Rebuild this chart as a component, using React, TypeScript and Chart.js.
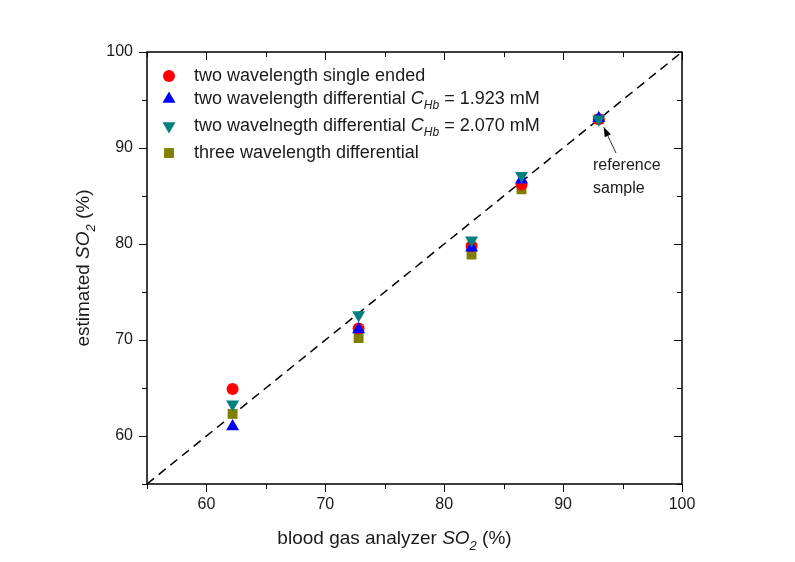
import React, { useEffect, useRef } from "react";
import { Chart, registerables } from "chart.js";

Chart.register(...registerables);

const analyzerSO2 = [62.2, 72.8, 82.3, 86.5, 93.0];
const singleEnded = [64.9, 71.2, 79.8, 86.2, 93.0];
const diff1923 = [61.0, 71.1, 79.6, 86.7, 93.1];
const diff2070 = [63.3, 72.6, 80.4, 87.1, 93.0];
const threeWave = [62.3, 70.2, 78.9, 85.7, 93.0];
const identityLine = [55, 100];
const xTicks = [60, 70, 80, 90, 100];
const yTicks = [60, 70, 80, 90, 100];

const FONT = "Arial, 'Liberation Sans', sans-serif";

const pts = (ys: number[]) => analyzerSO2.map((x, i) => ({ x, y: ys[i] }));

type Seg = { t: string; italic?: boolean; sub?: boolean };

function drawRich(ctx: CanvasRenderingContext2D, segs: Seg[], x: number, y: number, size: number, align: "left" | "center") {
  const fontFor = (s: Seg) => `${s.italic ? "italic " : ""}${s.sub ? Math.round(size * 0.68) : size}px ${FONT}`;
  let total = 0;
  for (const s of segs) { ctx.font = fontFor(s); total += ctx.measureText(s.t).width; }
  let cx = align === "center" ? x - total / 2 : x;
  ctx.textBaseline = "middle";
  ctx.textAlign = "left";
  for (const s of segs) {
    ctx.font = fontFor(s);
    ctx.fillText(s.t, cx, s.sub ? y + size * 0.38 : y);
    cx += ctx.measureText(s.t).width;
  }
}

function marker(ctx: CanvasRenderingContext2D, style: string, x: number, y: number, r: number, rot: number) {
  ctx.beginPath();
  if (style === "circle") {
    ctx.arc(x, y, r, 0, Math.PI * 2);
  } else if (style === "rect") {
    const s = r / Math.SQRT2;
    ctx.rect(x - s, y - s, 2 * s, 2 * s);
  } else {
    const d = rot === 180 ? -1 : 1;
    ctx.moveTo(x, y - d * r);
    ctx.lineTo(x + r * Math.sin(Math.PI / 3), y + d * r / 2);
    ctx.lineTo(x - r * Math.sin(Math.PI / 3), y + d * r / 2);
    ctx.closePath();
  }
  ctx.fill();
}

const legendItems: { segs: Seg[]; style: string; color: string; rot: number; r: number }[] = [
  { segs: [{ t: "two wavelength single ended" }], style: "circle", color: "#ff0000", rot: 0, r: 6 },
  { segs: [{ t: "two wavelength differential " }, { t: "C", italic: true }, { t: "Hb", italic: true, sub: true }, { t: " = 1.923 mM" }], style: "triangle", color: "#0000ff", rot: 0, r: 7.5 },
  { segs: [{ t: "two wavelnegth differential " }, { t: "C", italic: true }, { t: "Hb", italic: true, sub: true }, { t: " = 2.070 mM" }], style: "triangle", color: "#008080", rot: 180, r: 7.5 },
  { segs: [{ t: "three wavelength differential" }], style: "rect", color: "#808000", rot: 0, r: 7 },
];
const legendRowsY = [76, 99, 126, 153];

const overlay = {
  id: "overlay",
  afterDraw(chart: any) {
    const { ctx, chartArea: a, scales } = chart;
    const xs = scales.x, ys = scales.y;
    ctx.save();
    ctx.strokeStyle = "#000";
    ctx.lineWidth = 1.5;
    ctx.strokeRect(a.left, a.top, a.right - a.left, a.bottom - a.top);
    ctx.lineWidth = 1;
    for (let v = 55; v <= 100; v += 5) {
      const major = v % 10 === 0;
      const len = major ? 8 : 5;
      const px = Math.round(xs.getPixelForValue(v)) + 0.5;
      const py = Math.round(ys.getPixelForValue(v)) + 0.5;
      ctx.beginPath();
      ctx.moveTo(px, a.bottom); ctx.lineTo(px, a.bottom + len);
      ctx.moveTo(px, a.top); ctx.lineTo(px, a.top + len);
      ctx.moveTo(a.left, py); ctx.lineTo(a.left - len, py);
      ctx.moveTo(a.right, py); ctx.lineTo(a.right - len, py);
      ctx.stroke();
    }
    // legend
    legendItems.forEach((it, i) => {
      const y = legendRowsY[i];
      ctx.fillStyle = it.color;
      marker(ctx, it.style, 169, y, it.r, it.rot);
      ctx.fillStyle = "#1a1a1a";
      drawRich(ctx, it.segs, 194, y, 18, "left");
    });
    // axis titles
    ctx.fillStyle = "#1a1a1a";
    drawRich(ctx, [{ t: "blood gas analyzer " }, { t: "SO", italic: true }, { t: "2", italic: true, sub: true }, { t: " (%)" }], (a.left + a.right) / 2 - 20, 539, 19, "center");
    ctx.save();
    ctx.translate(84, (a.top + a.bottom) / 2);
    ctx.rotate(-Math.PI / 2);
    drawRich(ctx, [{ t: "estimated " }, { t: "SO", italic: true }, { t: "2", italic: true, sub: true }, { t: " (%)" }], 0, 0, 19, "center");
    ctx.restore();
    // annotation
    ctx.fillStyle = "#1a1a1a";
    ctx.font = `16px ${FONT}`;
    ctx.textAlign = "left";
    ctx.textBaseline = "middle";
    ctx.fillText("reference", 593, 166);
    ctx.fillText("sample", 593, 189);
    const tx = xs.getPixelForValue(93.0) + 5, tyy = ys.getPixelForValue(93.0) + 8;
    const sx = 616, sy = 153;
    ctx.strokeStyle = "#333";
    ctx.lineWidth = 1;
    ctx.beginPath(); ctx.moveTo(sx, sy); ctx.lineTo(tx, tyy); ctx.stroke();
    const ang = Math.atan2(tyy - sy, tx - sx);
    ctx.fillStyle = "#000";
    ctx.beginPath();
    ctx.moveTo(tx, tyy);
    ctx.lineTo(tx - 10 * Math.cos(ang - 0.35), tyy - 10 * Math.sin(ang - 0.35));
    ctx.lineTo(tx - 10 * Math.cos(ang + 0.35), tyy - 10 * Math.sin(ang + 0.35));
    ctx.closePath(); ctx.fill();
    ctx.restore();
  },
};

export default function App() {
  const ref = useRef<HTMLCanvasElement>(null);
  useEffect(() => {
    if (!ref.current) return;
    const chart = new Chart(ref.current, {
      type: "scatter",
      data: {
        datasets: [
          { label: "identity", data: identityLine.map((v) => ({ x: v, y: v })), showLine: true, borderColor: "#000", borderWidth: 1.5, borderDash: [9, 6], pointRadius: 0, order: 10 },
          { label: "three", data: pts(threeWave), pointStyle: "rect", pointRadius: 7, backgroundColor: "#808000", borderWidth: 0, order: 4 },
          { label: "single", data: pts(singleEnded), pointStyle: "circle", pointRadius: 6, backgroundColor: "#ff0000", borderWidth: 0, order: 3 },
          { label: "1.923", data: pts(diff1923), pointStyle: "triangle", pointRadius: 7.5, backgroundColor: "#0000ff", borderWidth: 0, order: 2 },
          { label: "2.070", data: pts(diff2070), pointStyle: "triangle", rotation: 180, pointRadius: 7.5, backgroundColor: "#008080", borderWidth: 0, order: 1 },
        ] as any,
      },
      options: {
        animation: false,
        responsive: false,
        layout: { padding: { left: 0, top: 52, right: 113, bottom: 0 } },
        plugins: { legend: { display: false }, tooltip: { enabled: false } },
        scales: {
          x: {
            type: "linear", min: 55, max: 100,
            afterFit: (s: any) => { s.height = 78; },
            afterBuildTicks: (s: any) => { s.ticks = xTicks.map((v) => ({ value: v })); },
            grid: { display: true, drawOnChartArea: false, drawTicks: true, tickLength: 8, tickColor: "transparent" },
            border: { display: false },
            ticks: { padding: 3, color: "#1a1a1a", font: { size: 16, family: FONT } },
          },
          y: {
            type: "linear", min: 55, max: 100,
            afterFit: (s: any) => { s.width = 147; },
            afterBuildTicks: (s: any) => { s.ticks = yTicks.map((v) => ({ value: v })); },
            grid: { display: true, drawOnChartArea: false, drawTicks: true, tickLength: 8, tickColor: "transparent" },
            border: { display: false },
            ticks: { padding: 6, color: "#1a1a1a", font: { size: 16, family: FONT } },
          },
        },
      },
      plugins: [overlay],
    } as any);
    return () => chart.destroy();
  }, []);
  return (
    <div style={{ position: "absolute", left: 0, top: 0, width: 795, height: 562, background: "#fff" }}>
      <canvas ref={ref} width={795} height={562} style={{ width: 795, height: 562 }} />
    </div>
  );
}
